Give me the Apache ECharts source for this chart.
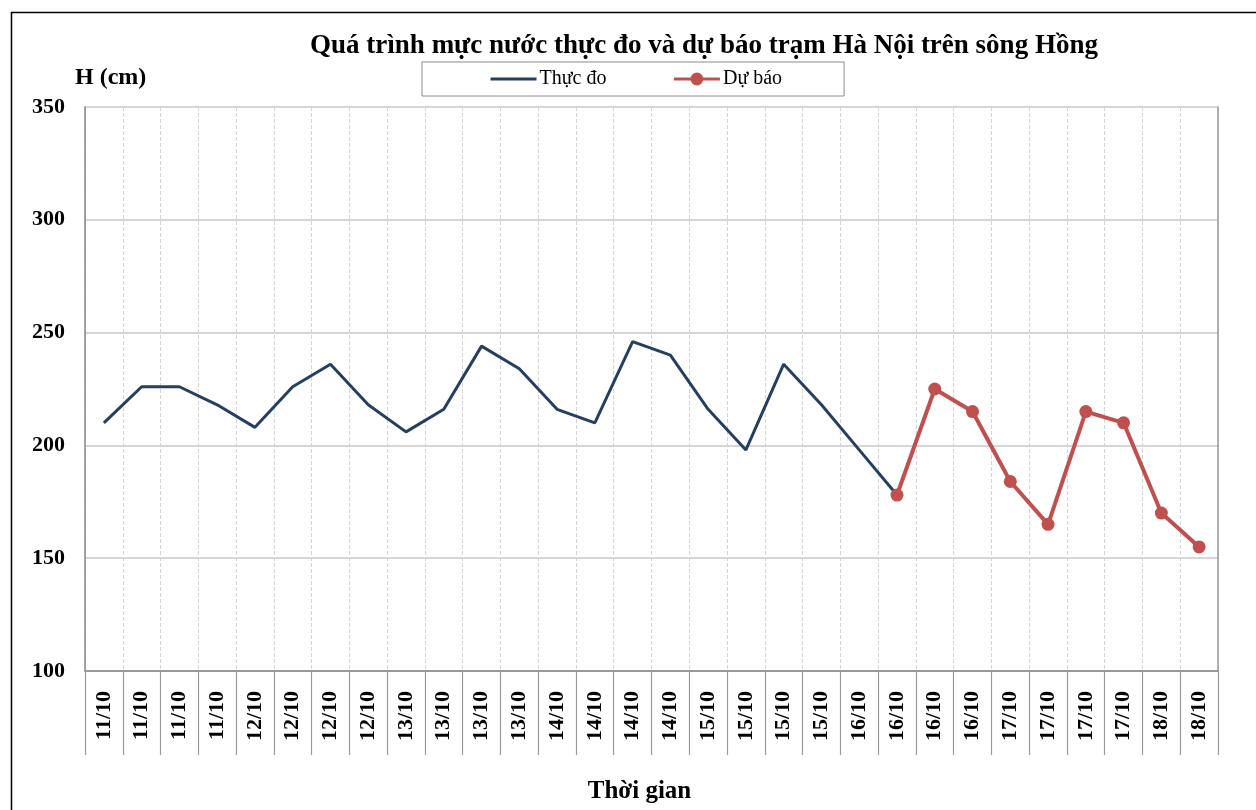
<!DOCTYPE html>
<html>
<head>
<meta charset="utf-8">
<script src="https://cdn.jsdelivr.net/npm/echarts@6/dist/echarts.min.js"></script>
<style>
  html, body { margin: 0; padding: 0; background: #fff; }
  #chart { width: 1256px; height: 810px; }
</style>
</head>
<body>
<div id="chart"></div>
<script>
const categories = [
    '11/10', '11/10', '11/10', '11/10',
    '12/10', '12/10', '12/10', '12/10',
    '13/10', '13/10', '13/10', '13/10',
    '14/10', '14/10', '14/10', '14/10',
    '15/10', '15/10', '15/10', '15/10',
    '16/10', '16/10', '16/10', '16/10',
    '17/10', '17/10', '17/10', '17/10',
    '18/10', '18/10'
];
// thuc do (measured)
const measured = [210, 226, 226, 218, 208, 226, 236, 218, 206, 216, 244, 234, 216, 210, 246, 240,
    216, 198, 236, 218, 198, 178];
// du bao (forecast), starting at index 21
const forecast = [178, 225, 215, 184, 165, 215, 210, 170, 155];
const forecastStart = 21;
const yTicks = { min: 100, max: 350, step: 50 };

const serif = '"Liberation Serif", "Times New Roman", serif';

const measuredData = categories.map((c, i) => i < measured.length ? measured[i] : null);
const forecastData = categories.map((c, i) => i >= forecastStart ? forecast[i - forecastStart] : null);

const chart = echarts.init(document.getElementById('chart'));
const option = {
    animation: false,
    backgroundColor: '#fff',
    title: {
        text: 'Quá trình mực nước thực đo và dự báo trạm Hà Nội trên sông Hồng',
        left: 699,
        top: 28,
        textAlign: 'center',
        textStyle: {
            fontFamily: serif,
            fontSize: 27,
            fontWeight: 'bold',
            color: '#000'
        }
    },
    legend: {
        left: 422,
        top: 62,
        padding: [7, 62, 7, 67],
        itemGap: 66,
        itemWidth: 46,
        itemHeight: 16,
        borderColor: '#8c8c8c',
        borderWidth: 1,
        lineStyle: { width: 3 },
        textStyle: {
            fontFamily: serif,
            fontSize: 20,
            color: '#000',
            padding: [0, 0, 0, -2]
        },
        data: [
            { name: 'Thực đo', itemStyle: { opacity: 0 } },
            { name: 'Dự báo' }
        ]
    },
    grid: {
        left: 85,
        right: 38,
        top: 107,
        bottom: 139
    },
    xAxis: {
        type: 'category',
        data: categories,
        boundaryGap: true,
        axisLine: { lineStyle: { color: '#868686', width: 1.5 } },
        axisTick: {
            show: true,
            length: 84,
            lineStyle: { color: '#9a9a9a', width: 1.2 }
        },
        axisLabel: {
            interval: 0,
            rotate: 90,
            margin: 20,
            fontFamily: serif,
            fontSize: 22,
            fontWeight: 'bold',
            color: '#000'
        },
        splitLine: {
            show: true,
            lineStyle: { color: '#d4d4d4', type: [4, 2], width: 1 }
        },
        name: 'Thời gian',
        nameLocation: 'middle',
        nameGap: 108,
        nameTextStyle: {
            padding: [0, 24, 0, 0],
            fontFamily: serif,
            fontSize: 25,
            fontWeight: 'bold',
            color: '#000'
        }
    },
    yAxis: [{
        type: 'value',
        min: yTicks.min,
        max: yTicks.max,
        interval: yTicks.step,
        axisLine: { show: true, lineStyle: { color: '#868686', width: 1.5 } },
        axisTick: { show: false },
        axisLabel: {
            margin: 20,
            fontFamily: serif,
            fontSize: 22,
            fontWeight: 'bold',
            color: '#000'
        },
        splitLine: { lineStyle: { color: '#c8c8c8', width: 1.5 } },
        name: 'H (cm)',
        nameLocation: 'end',
        nameGap: 17,
        nameTextStyle: {
            align: 'left',
            padding: [0, 0, 0, -10],
            fontFamily: serif,
            fontSize: 24,
            fontWeight: 'bold',
            color: '#000'
        }
    }, {
        type: 'value',
        position: 'right',
        min: yTicks.min,
        max: yTicks.max,
        interval: yTicks.step,
        axisLine: { show: true, lineStyle: { color: '#9a9a9a', width: 1.5 } },
        axisTick: { show: false },
        axisLabel: { show: false },
        splitLine: { show: false }
    }],
    graphic: [{
        type: 'rect',
        left: 9,
        top: 10,
        shape: { width: 1300, height: 900 },
        style: { fill: 'none', stroke: '#000', lineWidth: 1.5 },
        silent: true
    }],
    series: [{
        name: 'Thực đo',
        type: 'line',
        data: measuredData,
        symbol: 'none',
        lineStyle: { color: '#243F60', width: 3 },
        itemStyle: { color: '#243F60' },
        z: 3
    }, {
        name: 'Dự báo',
        type: 'line',
        data: forecastData,
        symbol: 'circle',
        symbolSize: 13,
        lineStyle: { color: '#C0504D', width: 4 },
        itemStyle: { color: '#C0504D' },
        z: 4
    }]
};
chart.setOption(option);
</script>
</body>
</html>
